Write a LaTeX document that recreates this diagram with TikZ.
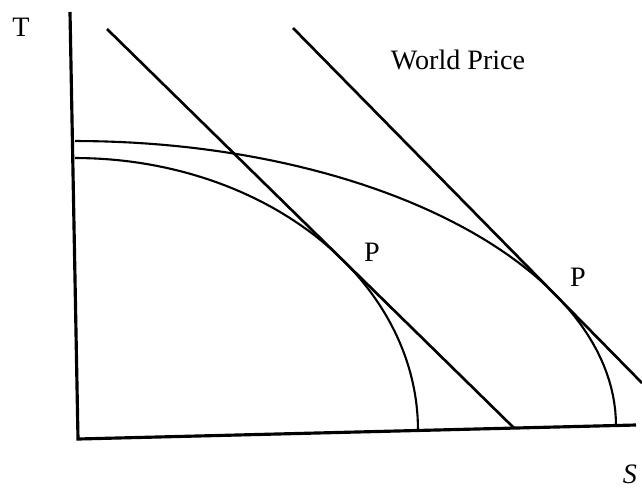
\documentclass[tikz,border=0pt]{standalone}
\usepackage{fontspec}
\setmainfont{Liberation Serif}
\usepackage{tikz}

\begin{document}
\begin{tikzpicture}[x=0.02cm, y=-0.02cm, font=\fontsize{16}{18}\selectfont]
                \useasboundingbox (0,0) rectangle (642,487);

                % axes
                \draw[line width=1.8pt] (70,12) -- (78,439) -- (636,425);
                \node (T) at (21,27) {T};
                \node[inner sep=1pt] (S) at (630,474) {\textit{S}};

                % world price lines
                \draw[line width=1.5pt] (107,29) -- (514,428);
                \draw[line width=1.5pt] (293,28) -- (642,383);
                \node (wp) at (458,60) {World Price};

                % production possibility curves
                \draw[line width=1.2pt, domain=0:90, samples=60] plot ({75+343*cos(\x)}, {430-272*sin(\x)});
                \draw[line width=1.2pt, domain=0:90, samples=60] plot ({75+541*cos(\x)}, {425.5-284.5*sin(\x)});

                \node (p1) at (372,252) {P};
                \node (p2) at (578,277) {P};
\end{tikzpicture}
\end{document}
